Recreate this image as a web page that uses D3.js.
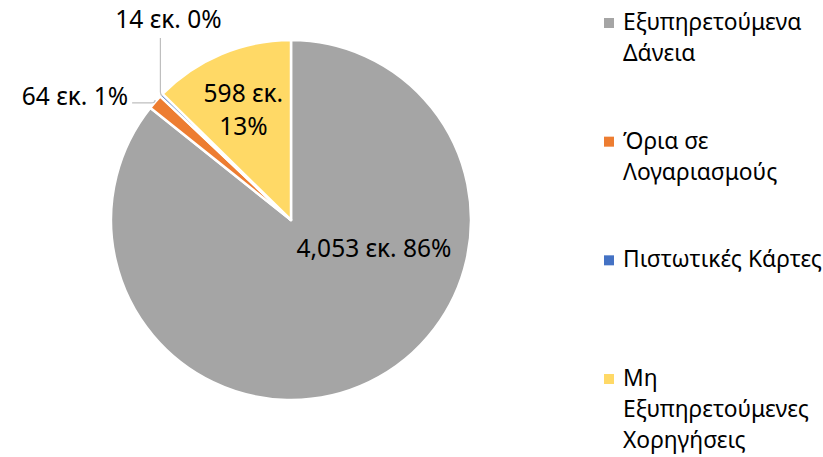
<!DOCTYPE html>
<html>
<head>
<meta charset="utf-8">
<script src="https://cdn.jsdelivr.net/npm/d3@7"></script>
<style>
  body { margin: 0; background: #fff; }
  svg { display: block; }
  text { font-family: "Noto Sans", "DejaVu Sans", sans-serif; fill: #000; }
</style>
</head>
<body>
<svg id="chart" width="823" height="457"></svg>
<script>
// data
const categories = ['Εξυπηρετούμενα Δάνεια', 'Όρια σε Λογαριασμούς', 'Πιστωτικές Κάρτες', 'Μη Εξυπηρετούμενες Χορηγήσεις'];
const legendLines = [['Εξυπηρετούμενα', 'Δάνεια'], ['Όρια σε', 'Λογαριασμούς'], ['Πιστωτικές Κάρτες'], ['Μη', 'Εξυπηρετούμενες', 'Χορηγήσεις']];
const values = [4053, 64, 14, 598];
const colors = ['#A5A5A5', '#ED7D31', '#4472C4', '#FFD966'];

let svg = d3.select('#chart');
let cx = 291, cy = 220, radius = 180;
let labelSize = 24.5, legendSize = 22.8;
let g = svg.append('g').attr('transform', 'translate(' + cx + ',' + cy + ')');

let total = d3.sum(values);
let pie = d3.pie().sort(null).value(function (d) { return d; });
let arcs = pie(values);
let arc = d3.arc().innerRadius(0).outerRadius(radius);

g.selectAll('path.slice')
  .data(arcs)
  .enter().append('path')
  .attr('class', 'slice')
  .attr('d', arc)
  .attr('fill', function (d, i) { return colors[i]; })
  .attr('stroke', '#fff')
  .attr('stroke-width', 2.5)
  .attr('stroke-linejoin', 'round');

function labelText(v) {
  return d3.format(',')(v) + ' εκ. ' + Math.round(v / total * 100) + '%';
}

// point on the outer edge at the middle of a slice
function edgePoint(d, r) {
  let a = (d.startAngle + d.endAngle) / 2;
  return [Math.sin(a) * r, -Math.cos(a) * r];
}

// inside labels: gray, yellow; outside with leaders: orange, blue
g.append('text')
  .attr('x', 83).attr('y', 37)
  .attr('text-anchor', 'middle')
  .attr('font-size', labelSize)
  .text(labelText(values[0]));

let yl = edgePoint(arcs[3], radius * 0.655);
g.append('text')
  .attr('x', yl[0] - 2).attr('y', yl[1] - 9)
  .attr('text-anchor', 'middle')
  .attr('font-size', labelSize)
  .text(d3.format(',')(values[3]) + ' εκ.');
g.append('text')
  .attr('x', yl[0] - 2).attr('y', yl[1] + 24)
  .attr('text-anchor', 'middle')
  .attr('font-size', labelSize)
  .text(Math.round(values[3] / total * 100) + '%');

// orange: label to the left, leader goes right then curves up to the slice
let po = edgePoint(arcs[1], radius);
g.append('path')
  .attr('d', 'M' + (po[0] - 23) + ',' + (po[1] + 1) + 'H' + (po[0] - 4) + 'Q' + po[0] + ',' + (po[1] + 1) + ' ' + po[0] + ',' + (po[1] - 2))
  .attr('fill', 'none').attr('stroke', '#BFBFBF').attr('stroke-width', 1.2);
g.append('text')
  .attr('x', po[0] - 27).attr('y', po[1] + 3)
  .attr('text-anchor', 'end')
  .attr('font-size', labelSize)
  .text(labelText(values[1]));

// blue: label above, leader goes down to the slice
let pb = edgePoint(arcs[2], radius);
g.append('path')
  .attr('d', 'M' + (pb[0] - 1) + ',' + (pb[1] - 57) + 'V' + (pb[1] - 3) + 'Q' + (pb[0] - 1) + ',' + pb[1] + ' ' + (pb[0] + 1) + ',' + (pb[1] + 1))
  .attr('fill', 'none').attr('stroke', '#BFBFBF').attr('stroke-width', 1.2);
g.append('text')
  .attr('x', pb[0] + 7).attr('y', pb[1] - 67)
  .attr('text-anchor', 'middle')
  .attr('font-size', labelSize)
  .text(labelText(values[2]));

// legend
let legendY = d3.scalePoint().domain(d3.range(categories.length)).range([30, 386]);
let legend = svg.append('g')
  .selectAll('g')
  .data(categories)
  .enter().append('g')
  .attr('transform', function (d, i) { return 'translate(604,' + legendY(i) + ')'; });

legend.append('rect')
  .attr('y', -12)
  .attr('width', 10)
  .attr('height', 10)
  .attr('fill', function (d, i) { return colors[i]; });

legend.append('text')
  .attr('x', 19)
  .attr('font-size', legendSize)
  .selectAll('tspan')
  .data(function (d, i) { return legendLines[i]; })
  .enter().append('tspan')
  .attr('x', 19)
  .attr('y', function (d, j) { return j * 31; })
  .text(function (d) { return d; });
</script>
</body>
</html>
